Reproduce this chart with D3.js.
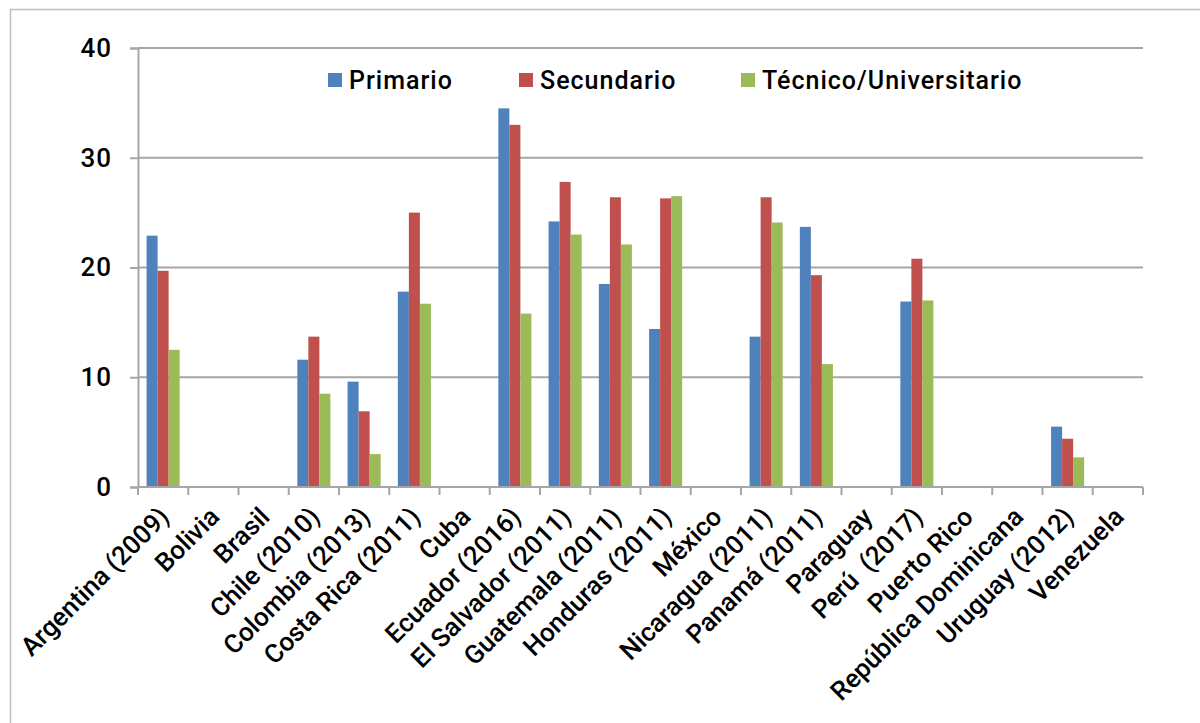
<!DOCTYPE html>
<html><head><meta charset="utf-8">
<script src="https://cdn.jsdelivr.net/npm/d3@7"></script>
<style>body{margin:0;background:#fff}svg{display:block}text{font-family:Roboto,"DejaVu Sans",sans-serif;white-space:pre}</style>
</head><body>
<svg id="c" width="1200" height="723"></svg>
<script>
const categories = ["Argentina (2009)","Bolivia","Brasil","Chile (2010)","Colombia (2013)","Costa Rica (2011)","Cuba","Ecuador (2016)","El Salvador (2011)","Guatemala (2011)","Honduras (2011)","México","Nicaragua (2011)","Panamá (2011)","Paraguay","Perú  (2017)","Puerto Rico","República Dominicana","Uruguay (2012)","Venezuela"];
const seriesNames = ["Primario","Secundario","Técnico/Universitario"];
const primario =    [22.9,null,null,11.6,9.6,17.8,null,34.5,24.2,18.5,14.4,null,13.7,23.7,null,16.9,null,null,5.5,null];
const secundario =  [19.7,null,null,13.7,6.9,25.0,null,33.0,27.8,26.4,26.3,null,26.4,19.3,null,20.8,null,null,4.4,null];
const tecnico =     [12.5,null,null,8.5,3.0,16.7,null,15.8,23.0,22.1,26.5,null,24.1,11.2,null,17.0,null,null,2.7,null];
const yTicks = [0,10,20,30,40];
const colors = ["#4F81BD","#C0504D","#9BBB59"];
const seriesValues = [primario, secundario, tecnico];

const svg = d3.select("#c");
const mLeft = 138, mRight = 1143, mTop = 48, mBottom = 487;
const grid = "#a6a6a6";

// outer frame
svg.append("rect").attr("x",10.5).attr("y",9.5).attr("width",1300).attr("height",900)
  .attr("fill","none").attr("stroke","#bfbfbf").attr("stroke-width",1.5);

const x0 = d3.scaleBand().domain(categories).range([mLeft,mRight]).paddingInner(0).paddingOuter(0);
const x1 = d3.scaleBand().domain(seriesNames).range([0,x0.bandwidth()]).paddingInner(0).paddingOuter(0.78);
const y = d3.scaleLinear().domain([0,40]).range([mBottom,mTop]);

// gridlines + y axis
const yAxis = d3.axisLeft(y).tickValues(yTicks).tickSize(8).tickPadding(18).tickFormat(d3.format("d"));
const gy = svg.append("g").attr("transform",`translate(${mLeft},0)`).call(yAxis);
gy.select(".domain").attr("stroke",grid).attr("stroke-width",2);
gy.selectAll(".tick line").attr("stroke",grid).attr("stroke-width",2);
gy.selectAll(".tick text").attr("font-size",26).attr("fill","#000").attr("font-weight",500).attr("letter-spacing",1);
svg.append("g").selectAll("line").data(yTicks.filter(d=>d>0)).join("line")
  .attr("x1",mLeft).attr("x2",mRight).attr("y1",d=>y(d)).attr("y2",d=>y(d))
  .attr("stroke",grid).attr("stroke-width",2);

// bars
const groups = svg.append("g").selectAll("g").data(categories).join("g")
  .attr("transform",d=>`translate(${x0(d)},0)`);
groups.selectAll("rect").data((d,i)=>seriesNames.map((s,j)=>({s,v:seriesValues[j][i],c:colors[j]})).filter(e=>e.v!=null))
  .join("rect")
  .attr("x",e=>x1(e.s)).attr("width",x1.bandwidth())
  .attr("y",e=>y(e.v)).attr("height",e=>y(0)-y(e.v))
  .attr("fill",e=>e.c);

// x axis
const bounds = categories.map(c=>x0(c)).concat([mRight]);
svg.append("line").attr("x1",mLeft).attr("x2",mRight).attr("y1",mBottom).attr("y2",mBottom).attr("stroke",grid).attr("stroke-width",2);
svg.append("g").selectAll("line").data(bounds).join("line")
  .attr("x1",d=>d).attr("x2",d=>d).attr("y1",mBottom).attr("y2",mBottom+8).attr("stroke",grid).attr("stroke-width",2);
svg.append("g").selectAll("text").data(categories).join("text")
  .attr("transform",d=>`translate(${x0(d)+x0.bandwidth()/2+1},${mBottom+25}) rotate(-45)`)
  .attr("text-anchor","end").attr("dy","0.35em").attr("font-size",26).attr("font-weight",500)
  .attr("fill","#000").text(d=>d);

// legend
const legX = [328, 519, 741];
const leg = svg.append("g").selectAll("g").data(seriesNames).join("g")
  .attr("transform",(d,i)=>`translate(${legX[i]},73)`);
leg.append("rect").attr("width",14).attr("height",14).attr("fill",(d,i)=>colors[i]);
leg.append("text").attr("x",21).attr("y",7).attr("dy","0.36em").attr("font-size",25).attr("font-weight",500)
  .attr("letter-spacing",1).attr("fill","#000").text(d=>d);
</script>
</body></html>
